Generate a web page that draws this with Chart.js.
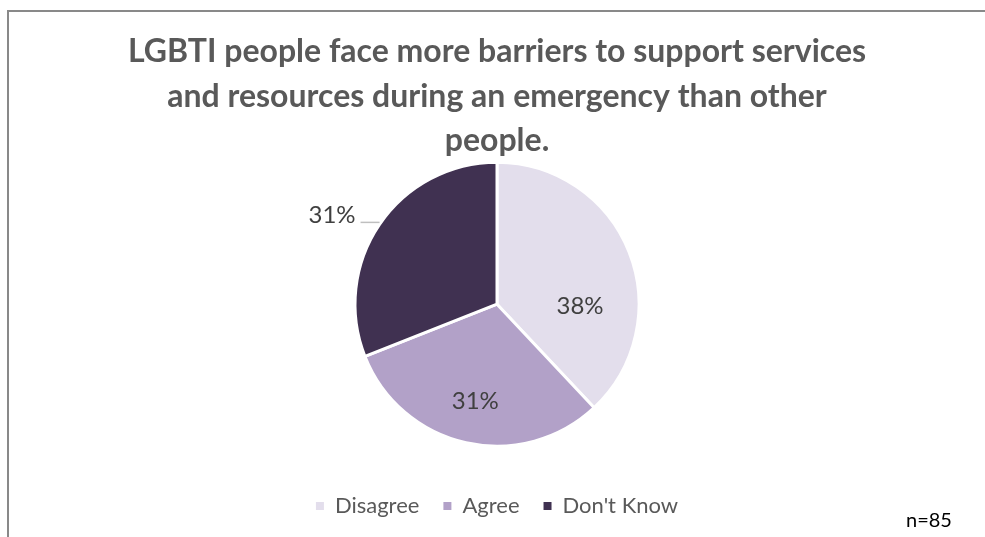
<!DOCTYPE html>
<html>
<head>
<meta charset="utf-8">
<title>Barriers during an emergency</title>
<script src="https://cdn.jsdelivr.net/npm/chart.js@4.4.1/dist/chart.umd.min.js"></script>
<style>
    body { margin: 0; background: #fff; }
    #wrap { position: relative; width: 985px; height: 537px; }
    #wrap canvas { position: absolute; left: 0; top: 0; }
    /* partial chart frame: top and left edges only */
    #frame {
        position: absolute; left: 7px; top: 10px; right: 0; bottom: 0;
        border-top: 2px solid #898989; border-left: 2px solid #898989;
        pointer-events: none;
    }
</style>
</head>
<body>
<div id="wrap">
    <canvas id="barriersPie" width="985" height="537"></canvas>
    <div id="frame"></div>
</div>
<script>
// chart data
var titleLines = [
    'LGBTI people face more barriers to support services',
    'and resources during an emergency than other',
    'people.'
];
var categories = ['Disagree', 'Agree', "Don't Know"];
var shares = [38, 31, 31];
var sliceColours = ['#e3deec', '#b2a1c8', '#403151'];
var sampleSize = 'n=85';

// where each percentage goes: inside at a fraction of the radius
// (optionally at a fixed angle), or outside with a short leader line
var labelPlacement = [
    { inside: true, r: 0.585, angle: 0.02 },
    { inside: true, r: 0.70 },
    { inside: false }
];

var sliceLabels = {
    id: 'sliceLabels',
    afterDatasetsDraw: function (chart) {
        var ctx = chart.ctx;
        var arcs = chart.getDatasetMeta(0).data;
        var values = chart.data.datasets[0].data;
        var total = values.reduce(function (a, b) { return a + b; }, 0);

        ctx.save();
        ctx.font = '24px Lato';
        ctx.fillStyle = '#404040';
        arcs.forEach(function (arc, i) {
            var text = Math.round(values[i] / total * 100) + '%';
            var p = labelPlacement[i];
            var mid = (arc.startAngle + arc.endAngle) / 2;

            if (p.inside) {
                var ang = p.angle !== undefined ? p.angle : mid;
                var r = arc.outerRadius * p.r;
                ctx.textAlign = 'center';
                ctx.textBaseline = 'middle';
                ctx.fillText(text, arc.x + Math.cos(ang) * r, arc.y + Math.sin(ang) * r);
            } else {
                var ex = arc.x + Math.cos(mid) * arc.outerRadius;
                var ey = arc.y + Math.sin(mid) * arc.outerRadius;
                ctx.strokeStyle = '#bfbfbf';
                ctx.lineWidth = 1.5;
                ctx.beginPath();
                ctx.moveTo(ex, ey - 2);
                ctx.lineTo(ex - 19, ey - 2);
                ctx.stroke();
                ctx.textAlign = 'right';
                ctx.textBaseline = 'middle';
                ctx.fillText(text, ex - 24, ey - 9);
            }
        });
        ctx.restore();
    }
};

var sampleNote = {
    id: 'sampleNote',
    afterDraw: function (chart) {
        var ctx = chart.ctx;
        ctx.save();
        ctx.font = '20px Lato';
        ctx.fillStyle = '#000';
        ctx.textAlign = 'left';
        ctx.textBaseline = 'middle';
        ctx.fillText(sampleSize, 906, 521);
        ctx.restore();
    }
};

var barriersPie = new Chart(document.getElementById('barriersPie'), {
    type: 'pie',
    data: {
        labels: categories,
        datasets: [{
            data: shares,
            backgroundColor: sliceColours,
            borderColor: '#ffffff',
            borderWidth: 3,
            radius: 142,
            clip: false
        }]
    },
    options: {
        responsive: false,
        animation: false,
        devicePixelRatio: 1,
        layout: { padding: { left: 9, bottom: 10 } },
        plugins: {
            title: {
                display: true,
                text: titleLines,
                color: '#595959',
                font: { family: 'Lato', size: 32, weight: 'bold', lineHeight: 1.4 },
                padding: { top: 29, bottom: -26 }
            },
            legend: {
                position: 'bottom',
                labels: {
                    boxWidth: 8,
                    boxHeight: 8,
                    padding: 24,
                    color: '#595959',
                    font: { family: 'Lato', size: 22 },
                    generateLabels: function (chart) {
                        // plain filled squares, no slice border
                        return Chart.PieController.overrides.plugins.legend.labels
                            .generateLabels(chart)
                            .map(function (item) {
                                item.lineWidth = 0;
                                return item;
                            });
                    }
                }
            },
            tooltip: { enabled: false }
        }
    },
    plugins: [sliceLabels, sampleNote]
});
</script>
</body>
</html>
